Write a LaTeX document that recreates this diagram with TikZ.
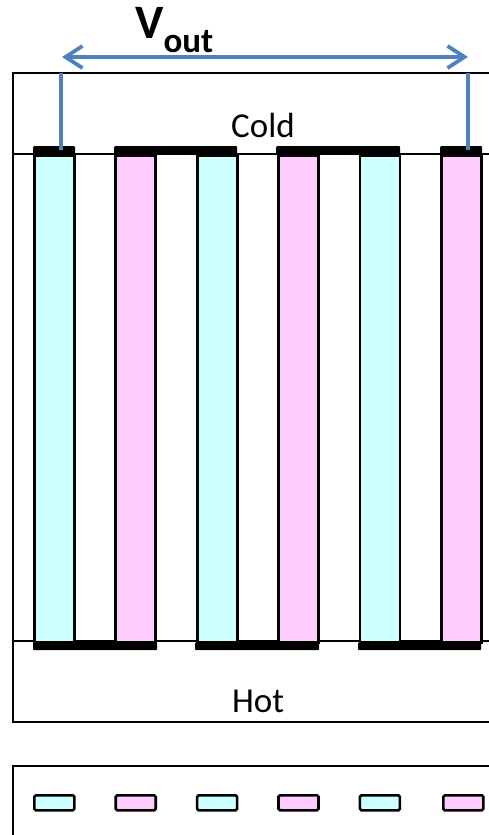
\documentclass[tikz,border=0pt]{standalone}
\usepackage{fontspec}
\setmainfont{Carlito}
\usetikzlibrary{arrows.meta}
\definecolor{ncyan}{HTML}{CCFFFF}
\definecolor{ppink}{HTML}{FFCCFF}
\definecolor{wireblue}{HTML}{4F81BD}

\begin{document}
\begin{tikzpicture}[x=1pt, y=-1pt,
  leg/.style={rectangle, draw, line width=2.8pt, inner sep=0pt, minimum width=40pt, minimum height=487pt, anchor=north west},
  nleg/.style={leg, fill=ncyan},
  pleg/.style={leg, fill=ppink},
  strap/.style={rectangle, fill=black, inner sep=0pt, minimum height=8pt, rounded corners=1pt, anchor=north west},
  chip/.style={rectangle, draw, line width=2.6pt, inner sep=0pt, minimum width=40pt, minimum height=15pt, rounded corners=1.5pt, anchor=north west},
  frame/.style={line width=2pt, draw=black},
  wire/.style={line width=3.8pt, draw=wireblue},
  lbl/.style={font=\fontsize{35}{40}\selectfont, inner sep=0pt}
]
\useasboundingbox (0,0) rectangle (488,835);
% module frame
\draw[frame] (495,73) -| (13,722) -- (495,722);
\draw[frame] (13,154) -- (495,154);
\draw[frame] (13,641) -- (495,641);
\draw[frame] (495,766) -| (13,845);
% legs
\node[nleg] (l1) at (33.0,154) {};
\node[pleg] (l2) at (114.4,154) {};
\node[nleg] (l3) at (195.8,154) {};
\node[pleg] (l4) at (277.2,154) {};
\node[nleg] (l5) at (358.6,154) {};
\node[pleg] (l6) at (440.0,154) {};
% cold side straps
\node[strap, minimum width=42pt] (t1) at (33,146) {};
\node[strap, minimum width=123pt] (t2) at (114,146) {};
\node[strap, minimum width=124pt] (t3) at (276,146) {};
\node[strap, minimum width=42pt] (t4) at (440,146) {};
% hot side straps
\node[strap, minimum width=124pt] (b1) at (33,642) {};
\node[strap, minimum width=124pt] (b2) at (195,642) {};
\node[strap, minimum width=123pt] (b3) at (358,642) {};
% labels
\node[lbl, anchor=base] (cold) at (263,137) {Cold};
\node[lbl, anchor=base] (hot) at (258,712) {Hot};
\node[inner sep=0pt, anchor=base west] (vout) at (135,38)
  {\fontsize{48}{52}\selectfont\bfseries V\raisebox{-14pt}{\fontsize{35}{38}\selectfont out}};
% output leads
\coordinate (wl) at (61,73);
\coordinate (wr) at (468,73);
\draw[wire] (wl) -- (wl |- t1.center);
\draw[wire] (wr) -- (wr |- t4.center);
\coordinate (al) at (62,57);
\coordinate (ar) at (468,57);
\draw[wire, {Straight Barb[length=17pt, width=22pt]}-{Straight Barb[length=17pt, width=22pt]}] (al) -- (ar);
% top view
\node[chip, fill=ncyan] (c1) at (33.0,794) {};
\node[chip, fill=ppink] (c2) at (114.4,794) {};
\node[chip, fill=ncyan] (c3) at (195.8,794) {};
\node[chip, fill=ppink] (c4) at (277.2,794) {};
\node[chip, fill=ncyan] (c5) at (358.6,794) {};
\node[chip, fill=ppink] (c6) at (442.0,794) {};
\end{tikzpicture}
\end{document}
